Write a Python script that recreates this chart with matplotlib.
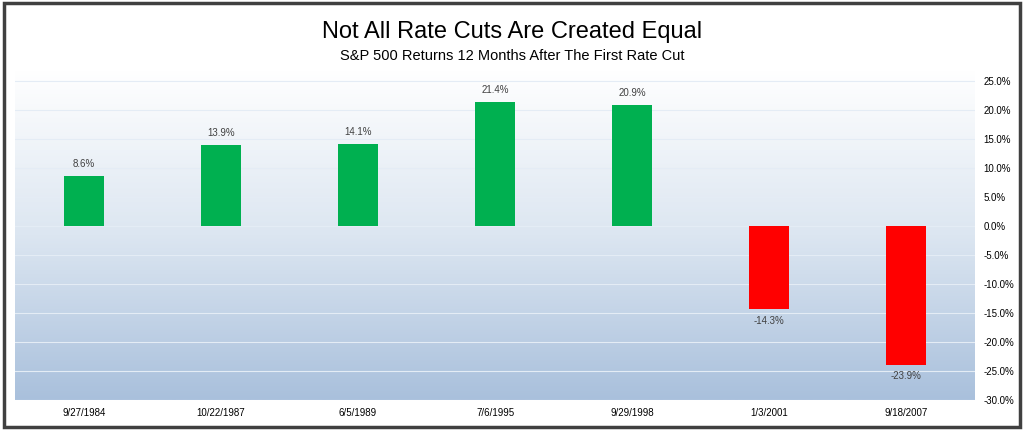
import matplotlib
matplotlib.use("Agg")
import matplotlib.pyplot as plt
import numpy as np
from matplotlib.patches import Rectangle
from matplotlib.colors import LinearSegmentedColormap

dates = ["9/27/1984", "10/22/1987", "6/5/1989", "7/6/1995", "9/29/1998", "1/3/2001", "9/18/2007"]
returns = [8.6, 13.9, 14.1, 21.4, 20.9, -14.3, -23.9]

fig = plt.figure(figsize=(10.24, 4.30), dpi=100)
fig.patches.append(Rectangle((0.004, 0.007), 0.992, 0.986, transform=fig.transFigure,
                             fill=False, edgecolor="#404040", linewidth=2.5))
fig.text(0.5, 0.925, "Not All Rate Cuts Are Created Equal", ha="center", va="center",
         fontsize=17, family="Liberation Sans")
fig.text(0.5, 0.87, "S&P 500 Returns 12 Months After The First Rate Cut", ha="center",
         va="center", fontsize=10.5, family="Liberation Sans")

ax = fig.add_axes([0.015, 0.07, 0.937, 0.767])
ymin, ymax = -30, 26.9
x = np.arange(len(dates))
grad = np.linspace(0, 1, 256).reshape(-1, 1)
cmap = LinearSegmentedColormap.from_list("g", ["#ffffff", "#dce6f1", "#a9c0dc"])
ax.imshow(grad, cmap=cmap, aspect="auto", origin="upper",
          extent=(-0.5, len(dates) - 0.5, ymin, ymax), zorder=0)
ax.set_xlim(-0.5, len(dates) - 0.5)
ax.set_ylim(ymin, ymax)
yt = np.arange(-30, 26, 5)
ax.set_yticks(yt)
ax.set_yticklabels([f"{v:.1f}%" for v in yt], fontsize=7, family="Liberation Sans")
ax.yaxis.tick_right()
for v in yt:
    ax.axhline(v, color="#e4ecf5", lw=0.8, zorder=1)
colors = ["#00b050" if r >= 0 else "#ff0000" for r in returns]
ax.bar(x, returns, width=0.29, color=colors, zorder=2)
for xi, r in zip(x, returns):
    off = 1.2 if r >= 0 else -1.2
    ax.text(xi, r + off, f"{r:.1f}%", ha="center", va="bottom" if r >= 0 else "top",
            fontsize=7, color="#404040", family="Liberation Sans")
ax.set_xticks(x)
ax.set_xticklabels(dates, fontsize=7, family="Liberation Sans")
ax.tick_params(axis="x", length=0, pad=6)
ax.tick_params(axis="y", length=0, pad=6)
for s in ax.spines.values():
    s.set_visible(False)
fig.savefig("out.png", dpi=100)
